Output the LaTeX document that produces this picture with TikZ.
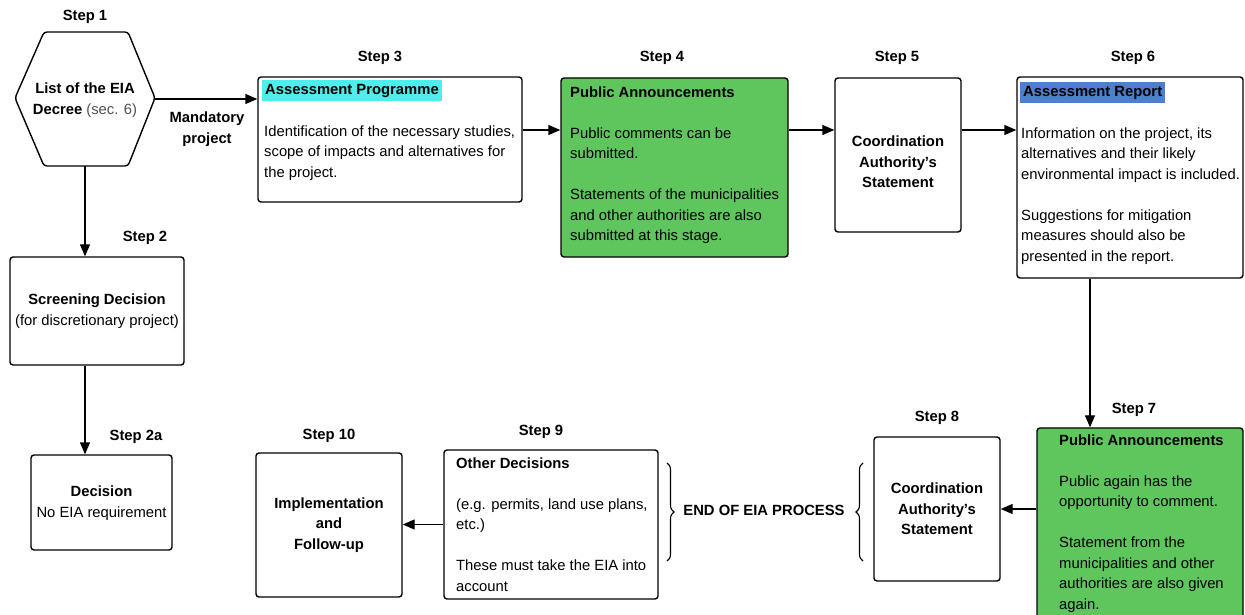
\documentclass[tikz,border=0pt]{standalone}
\usepackage{fontspec}
\setmainfont{Liberation Sans}
\usetikzlibrary{arrows.meta,decorations.pathreplacing,calc}
\definecolor{gfill}{HTML}{5EC65C}
\definecolor{cyanhl}{HTML}{4FEDEB}
\definecolor{bluehl}{HTML}{4C7FCE}
\definecolor{graytxt}{HTML}{505050}
\tikzset{
  boxst/.style={draw, line width=1.4bp, rounded corners=3bp, inner sep=0},
  greenbox/.style={boxst, fill=gfill},
  txt/.style={inner sep=0, anchor=north west, align=left},
  ctxt/.style={inner sep=0, align=center, font=\fontsize{14.8bp}{20.5bp}\selectfont\bfseries},
  steplbl/.style={inner sep=0, font=\fontsize{14.8bp}{20.5bp}\selectfont\bfseries},
  hl/.style={inner xsep=3bp, inner ysep=2.5bp, anchor=north west, text height=12bp, text depth=4bp, font=\fontsize{14.8bp}{20.5bp}\selectfont\bfseries},
  arr/.style={line width=1.4bp, -{Triangle[length=12bp,width=10bp]}},
  brc/.style={line width=1.1bp, decorate, decoration={brace, amplitude=7bp}},
}
\begin{document}
\begin{tikzpicture}[x=1bp, y=-1bp, font=\fontsize{14.8bp}{20.5bp}\selectfont]
\useasboundingbox (0,0) rectangle (1245,615);
\clip (0,0) rectangle (1245,615);

% Step 1 hexagon
\draw[line width=1.4bp, rounded corners=3bp] (15,98) -- (44,32) -- (128,32) -- (155,98) -- (128,166) -- (44,166) -- cycle;
\node[inner sep=0, minimum width=140bp, minimum height=134bp] (s1) at (85,99) {};
\node[inner sep=0, align=center] (s1t) at (85,100) {\textbf{List of the EIA}\\\textbf{Decree} \textcolor{graytxt}{(sec. 6)}};
\node[steplbl] (l1) at (85,17) {Step 1};

% Step 2
\node[boxst, minimum width=174bp, minimum height=108bp] (s2) at (97,311) {};
\node[inner sep=0, align=center] (s2t) at (97,311) {\textbf{Screening Decision}\\(for discretionary project)};
\node[steplbl] (l2) at (145,238) {Step 2};

% Step 2a
\node[boxst, minimum width=141bp, minimum height=95bp] (s2a) at (101.5,502.5) {};
\node[inner sep=0, align=center] (s2at) at (101.5,503) {\textbf{Decision}\\No EIA requirement};
\node[steplbl] (l2a) at (136,437) {Step 2a};

% Step 3
\node[boxst, minimum width=264bp, minimum height=125bp] (s3) at (390,139.5) {};
\node[hl, fill=cyanhl] (s3h) at (262,80) {Assessment Programme};
\node[txt] (s3t) at (264,125.5) {Identification of the necessary studies,\\scope of impacts and alternatives for\\the project.};
\node[steplbl] (l3) at (380,58) {Step 3};

% Step 4
\node[greenbox, minimum width=227bp, minimum height=179bp] (s4) at (674.5,167.5) {};
\node[txt] (s4t) at (570,86.5) {\textbf{Public Announcements}\\[20.5bp]Public comments can be\\submitted.\\[20.5bp]Statements of the municipalities\\and other authorities are also\\submitted at this stage.};
\node[steplbl] (l4) at (662,58) {Step 4};

% Step 5
\node[boxst, minimum width=126bp, minimum height=154bp] (s5) at (898,155) {};
\node[ctxt] (s5t) at (898,162) {Coordination\\Authority’s\\Statement};
\node[steplbl] (l5) at (897,58) {Step 5};

% Step 6
\node[boxst, minimum width=226bp, minimum height=201bp] (s6) at (1130,177.5) {};
\node[hl, fill=bluehl] (s6h) at (1020,82) {Assessment Report};
\node[txt] (s6t) at (1021,127.5) {Information on the project, its\\alternatives and their likely\\environmental impact is included.\\[20.5bp]Suggestions for mitigation\\measures should also be\\presented in the report.};
\node[steplbl] (l6) at (1133,58) {Step 6};

% Step 7
\node[greenbox, minimum width=206bp, minimum height=200bp] (s7) at (1140,528) {};
\node[txt] (s7t) at (1059,434.5) {\textbf{Public Announcements}\\[20.5bp]Public again has the\\opportunity to comment.\\[20.5bp]Statement from the\\municipalities and other\\authorities are also given\\again.};
\node[steplbl] (l7) at (1134,410) {Step 7};

% Step 8
\node[boxst, minimum width=126bp, minimum height=144bp] (s8) at (937,509) {};
\node[ctxt] (s8t) at (937,509) {Coordination\\Authority’s\\Statement};
\node[steplbl] (l8) at (937,418) {Step 8};

% Step 9
\node[boxst, minimum width=214bp, minimum height=149bp] (s9) at (551,524.5) {};
\node[txt] (s9t) at (456,457.5) {\textbf{Other Decisions}\\[20.5bp](e.g. permits, land use plans,\\etc.)\\[20.5bp]These must take the EIA into\\account};
\node[steplbl] (l9) at (541,432) {Step 9};

% Step 10
\node[boxst, minimum width=146bp, minimum height=144bp] (s10) at (329,525) {};
\node[ctxt] (s10t) at (329,525) {Implementation\\and\\Follow-up};
\node[steplbl] (l10) at (329,436) {Step 10};

% End of process
\node[ctxt] (eop) at (764,510) {END OF EIA PROCESS};
\coordinate (b9t) at (667,463);
\coordinate (b9b) at (667,561);
\coordinate (b8t) at (863,463);
\coordinate (b8b) at (863,561);
\draw[brc] (b9t) -- (b9b);
\draw[brc] (b8b) -- (b8t);

% Connectors
\draw[arr] (s1.east) -- (s1.east -| s3.west);
\node[ctxt] (mand) at (207,129) {Mandatory\\project};
\draw[arr] (s1.south) -- (s1.south |- s2.north);
\draw[arr] (s1.south |- s2.south) -- (s1.south |- s2a.north);
\draw[arr] ([yshift=9.5bp]s3.east) -- ([yshift=9.5bp]s3.east -| s4.west);
\draw[arr] ([yshift=37.5bp]s4.east) -- ([yshift=37.5bp]s4.east -| s5.west);
\draw[arr] ([yshift=25bp]s5.east) -- ([yshift=25bp]s5.east -| s6.west);
\coordinate (c67) at (1090,0);
\draw[arr] (c67 |- s6.south) -- (c67 |- s7.north);
\draw[arr] (s7.west |- s8.east) -- (s8.east);
\draw[arr] (s9.west) -- (s9.west -| s10.east);
\end{tikzpicture}
\end{document}
